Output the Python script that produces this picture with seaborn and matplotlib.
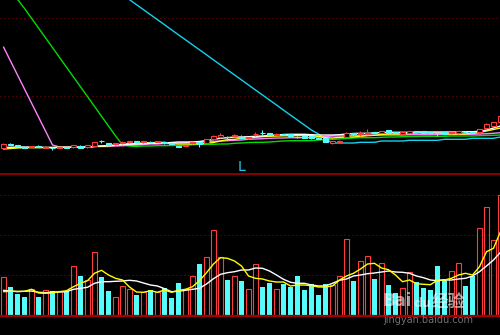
import numpy as np
import pandas as pd
import matplotlib
matplotlib.use("Agg")
import matplotlib.pyplot as plt
import seaborn as sns

sns.set_style("dark")
plt.rcParams["font.family"] = ["DejaVu Sans", "Noto Sans CJK SC"]

# ---------------- data ----------------
k = list(range(72))

opens = [26.3,29.8,29,27.3,27,28.3,26.3,26.2,26,27,
         26.7,27.7,26.7,28.3,33.2,31,29.7,31,32.3,33,
         31.7,32.5,32,32,31,28.3,28,30.7,32.3,31,
         34.7,37,37.3,38.3,37.5,35.7,39.7,41.3,40.7,39.5,
         40.3,40,37.3,37.7,37.7,36,35.7,30.7,32.5,37,
         41,40,39.7,42.3,41.3,43.7,42,39.7,41.3,43,
         43,42,41.5,41.7,40.7,40.7,42.5,42.3,41.7,45.7,
         48.3,51.7]
closes = [29.7,29.5,28,26,28,27.3,27.3,25.9,27,26.3,
          28.7,26,28.7,31.7,32.8,29,31,32,33,32.5,
          32.7,32,32.8,30.7,30.3,27,29,32,30.3,35,
          38,39,36.7,39,36,37,40.3,40.7,39,40.3,
          39.7,38.3,36.7,36.3,35.7,35,32.3,32.7,33.5,40.7,
          39.7,40.7,40.7,40.7,43.3,41,41.3,41.7,42.7,42,
          41,41.3,40.7,40,41.7,42.7,41.7,41.5,45,49.7,
          51.7,58.3]
highs = [31,31,29.3,27.5,28.3,28.7,27.7,26.7,27.3,27.3,
         29,29,29,32,34,31.3,31.3,33,33,33,
         33,32.7,33,32.3,31.3,28.5,29.3,32.3,32.5,35.3,
         39,41,38.3,39.7,39,37.2,41.7,43.7,40.8,40.7,
         40.5,40.2,38.3,37.8,37.8,36.3,35.8,33,34,41.7,
         41,42.7,45,42.5,43.5,44,42.3,42,43,43,
         43.2,42.3,41.7,41.8,42,43,42.8,42.5,45.3,51.3,
         52.5,59]
lows = [26,29,27.7,25.8,26.7,27,25.7,24.3,25.7,26,
        26.5,25.8,26.5,28,30.7,28.7,29.3,29.7,30.7,31,
        31.5,31.5,31.8,30.5,30,26.8,27.7,30.5,27.3,30.7,
        34.5,35.7,35,37.7,35,35.5,38.3,39,38.8,39.3,
        39.5,38,35.7,36.2,35.5,34.7,32,30.5,32.3,36.8,
        38.3,38.3,39.7,40.5,41,40.8,41,39.5,41,40.7,
        40.8,41,38.3,39.7,40.5,40.5,41.5,41.3,41.5,44.7,
        48,51.5]

ma_white = [26.5,26.7,27,27,27,26.7,26.7,26.5,26.5,26.7,
            26.7,27,27,27.5,28,28.5,29,29.3,29.7,30,
            30.3,30.7,30.7,31,31.5,32,32,32,32.5,33.5,
            34.5,35.7,36.3,37,37,37.3,37.7,38,38.5,39,
            39.5,39.7,39.7,39.7,39.3,39,39,39,39.3,40,
            40.5,40.7,40.7,41,41.5,41.7,41.7,41.7,41.7,42,
            42,42,42,42,42,42,42.3,42.3,42.7,44,
            46,48]
ma_yellow = [25,25.5,26,26.3,26.3,26.3,26.3,26.5,26.7,26.7,
             26.7,26.7,26.8,27.7,27.7,28.3,28.7,30,30.3,30.3,
             31.3,31.3,31.5,31.7,30.3,30,30,30,30.3,30.7,
             31.5,33,34.3,34.7,35.7,36,36.7,37.3,37.7,38,
             38.2,38.3,38.3,38.5,38.5,37.5,36.3,36,36.5,37,
             37,37.7,38.3,38.7,39.5,40,40,40,40.5,41,
             41,41,41,40.5,40,40,40,41,41.5,43,
             44.5,46]
ma_pink = [127,113,99,85,71,57,43,29,27,27,
           27,27,27,27.5,27.5,27.5,28,28.3,28.7,29,
           29.5,30,30,30.5,30.5,31,31.3,31.7,32,32.3,
           32.7,33,33.3,33.7,34,34.7,35,35.3,35.7,36,
           36,36.3,36.3,36.3,36.5,37,37.5,38,38,38.3,
           38.5,38.7,38.7,38.7,39,39,39,39,39.3,39.3,
           39.3,39.3,39.5,39.5,39.5,39.7,39.7,39.7,40,40.3,
           40.7,41.3]
ma_green = [194,184.5,174.7,165.6,155.8,146,136.2,126.4,116.6,106.8,
            97,87.2,77.4,67.6,57.8,48,38.2,29,28,27.5,
            28,28,28.3,28.3,28.5,28.7,28.7,29.3,29.7,29.7,
            29.7,30,30,30.7,31,31.5,31.7,31.7,32,32.5,
            33,33.3,33.3,33.3,33.3,34,34.3,34.7,35,35.5,
            36,36.3,36.3,36.3,36.7,37,37,37.3,37.5,37.5,
            37.7,37.7,37.7,37.7,38,38,38,38,38.3,38.5,
            38.7,39]
ma_cyan = [np.nan]*17 + [179.4,174.4,169.3,
           164.3,159.3,154.3,149.3,144.2,139.2,134.2,129.2,124.2,119.2,
           114.1,109.1,104.1,99.1,94.1,89,84,79,74,69,
           63.9,58.9,53.9,48.9,43.9,40,35,31,31,31,
           31,31.7,31.7,31.7,33,33,33,33,33.7,33.7,
           33.7,33.7,33.7,34.7,34.7,34.7,34.7,35.7,35.7,35.7,
           35.7,37]

volume = [38.7,29,22,19,26.7,19,25.7,25,24.7,25,
          49.7,40,36,63.7,39,25,18.7,29.7,26.7,21,
          24.3,26,24.3,28,18,33,26.7,39.7,52,58.7,
          85.7,58.7,36,39.7,35,26.7,51.7,29,33,26.7,
          32,29,40,26,32,21,32,31,40,76.7,
          35,54.7,59.7,37,52.7,31,23,27.7,43.7,34,
          28,26,50,37,44.7,52.7,30,40,87.7,108.7,
          75.7,120.7]
vol_ma_yellow = [24.3,24.7,24.7,24.7,26.7,23,22.7,23,24.3,25.3,
                 29.3,32.7,35.3,42.7,45.7,41,37.7,36,29,24,
                 23.7,25.3,23.7,26,23.7,25.7,26.7,29.3,35.3,43.3,
                 52,58.3,57.7,55,50,40,37.7,37,35,34,
                 34,30,31,31,30.3,29,29,30,36,40,
                 42.7,47,52,52.7,48,46.3,41,34.3,36,32.3,
                 31.7,31.3,36,36,37.7,41,42.7,41,49.3,64.3,
                 67.7,84.3]
vol_ma_white = [25.7,25,24.3,24.7,25,23.7,23.3,24,24,24.3,
                26.7,27.7,28.7,32.7,34.3,34.3,34.7,35,35.7,35,
                33,31,30,27.3,24.3,24.7,25.7,26.7,27.7,32,
                37.3,41.7,43.3,44.3,46,46,48,47.7,45,41,
                36.7,33.7,32.7,32.7,31,30,30,32.7,35.7,37,
                40,41,42.3,43,44,45,44,43.7,42.7,40,
                38.3,36,35.3,36,36,37,37.7,40,44.3,50,
                56,63.7]

# ---------------- style ----------------
BG = "black"
RED = "#FF3C3C"
CYAN = "#54FCFC"
DARKRED = "#A00000"
DOT = "#990000"

df = pd.DataFrame({"k": k, "open": opens, "close": closes, "high": highs,
                   "low": lows, "vol": volume})
df["up"] = df["close"] >= df["open"]

fig = plt.figure(figsize=(5, 3.35), dpi=100, facecolor=BG)
ax1 = fig.add_axes([0, 161/335, 1, 174/335])
ax2 = fig.add_axes([0, 19/335, 1, 142/335])
for ax in (ax1, ax2):
    ax.set_facecolor(BG)

XL = (-0.5, 70.93)

# ----- price pane -----
for val in (155.7, 77.7):
    ax1.axhline(val, color=DOT, lw=0.72, dashes=(1, 3), zorder=1)

lines = [(ma_cyan, "#14D2EA"), (ma_green, "#00DC00"), (ma_pink, "#FF80FF"),
         (ma_yellow, "#FFFF00"), (ma_white, "#FFFFFF")]
for vals, col in lines:
    d = pd.DataFrame({"k": k, "v": vals}).dropna()
    sns.lineplot(data=d, x="k", y="v", color=col, lw=1.0, estimator=None,
                 errorbar=None, ax=ax1, zorder=3)

cols = [RED if u else CYAN for u in df["up"]]
ax1.vlines(df["k"], df["low"], df["high"], colors=cols, lw=0.8, zorder=4)
bottoms = np.minimum(df["open"], df["close"])
heights = np.maximum(np.abs(df["close"] - df["open"]), 0.4)
faces = [BG if u else CYAN for u in df["up"]]
ax1.bar(df["k"], heights, bottom=bottoms, width=0.714, color=faces,
        edgecolor=cols, lw=0.8, zorder=5)
ax1.axhline(0, color=DARKRED, lw=1.2, clip_on=False, zorder=6)
ax1.set_xlim(*XL)
ax1.set_ylim(0, 174)
ax1.axis("off")

# ----- volume pane -----
for val in (120.7, 80.7, 40.7):
    ax2.axhline(val, color=DOT, lw=0.72, dashes=(1, 3), zorder=1)

sns.barplot(data=df[df["up"]], x="k", y="vol", native_scale=True, fill=False,
            color=RED, saturation=1, width=0.714, errorbar=None, linewidth=0.8,
            ax=ax2, zorder=2)
sns.barplot(data=df[~df["up"]], x="k", y="vol", native_scale=True,
            color=CYAN, saturation=1, width=0.714, errorbar=None, linewidth=0,
            ax=ax2, zorder=2)
sns.lineplot(x=k, y=vol_ma_white, color="#FFFFFF", lw=1.0, estimator=None,
             errorbar=None, ax=ax2, zorder=3)
sns.lineplot(x=k, y=vol_ma_yellow, color="#FFFF00", lw=1.0, estimator=None,
             errorbar=None, ax=ax2, zorder=3)
ax2.axhline(0, color=DARKRED, lw=1.6, clip_on=False, zorder=6)
ax2.set_xlim(*XL)
ax2.set_ylim(0, 142)
ax2.axis("off")

# ----- text -----
fig.text(237.5/500, 1 - 171/335, "L", color="#22CCEE", fontsize=10,
         va="baseline", ha="left")

fig.text(383/500, 1 - 306/335, "Bai", color="white", alpha=0.6, fontsize=12,
         fontweight="bold", va="baseline")
fig.text(414/500, 1 - 307/335, "du", color="white", alpha=0.6, fontsize=9,
         fontweight="bold", va="baseline")
fig.text(432/500, 1 - 307/335, "经验", color="white", alpha=0.6, fontsize=12,
         fontweight="bold", va="baseline",
         family=["Noto Sans CJK SC", "DejaVu Sans"])
fig.text(383/500, 1 - 323/335, "jingyan.baidu.com", color="#BBBBBB",
         alpha=0.6, fontsize=7, va="baseline")

fig.savefig("out.png", dpi=100, facecolor=BG)
